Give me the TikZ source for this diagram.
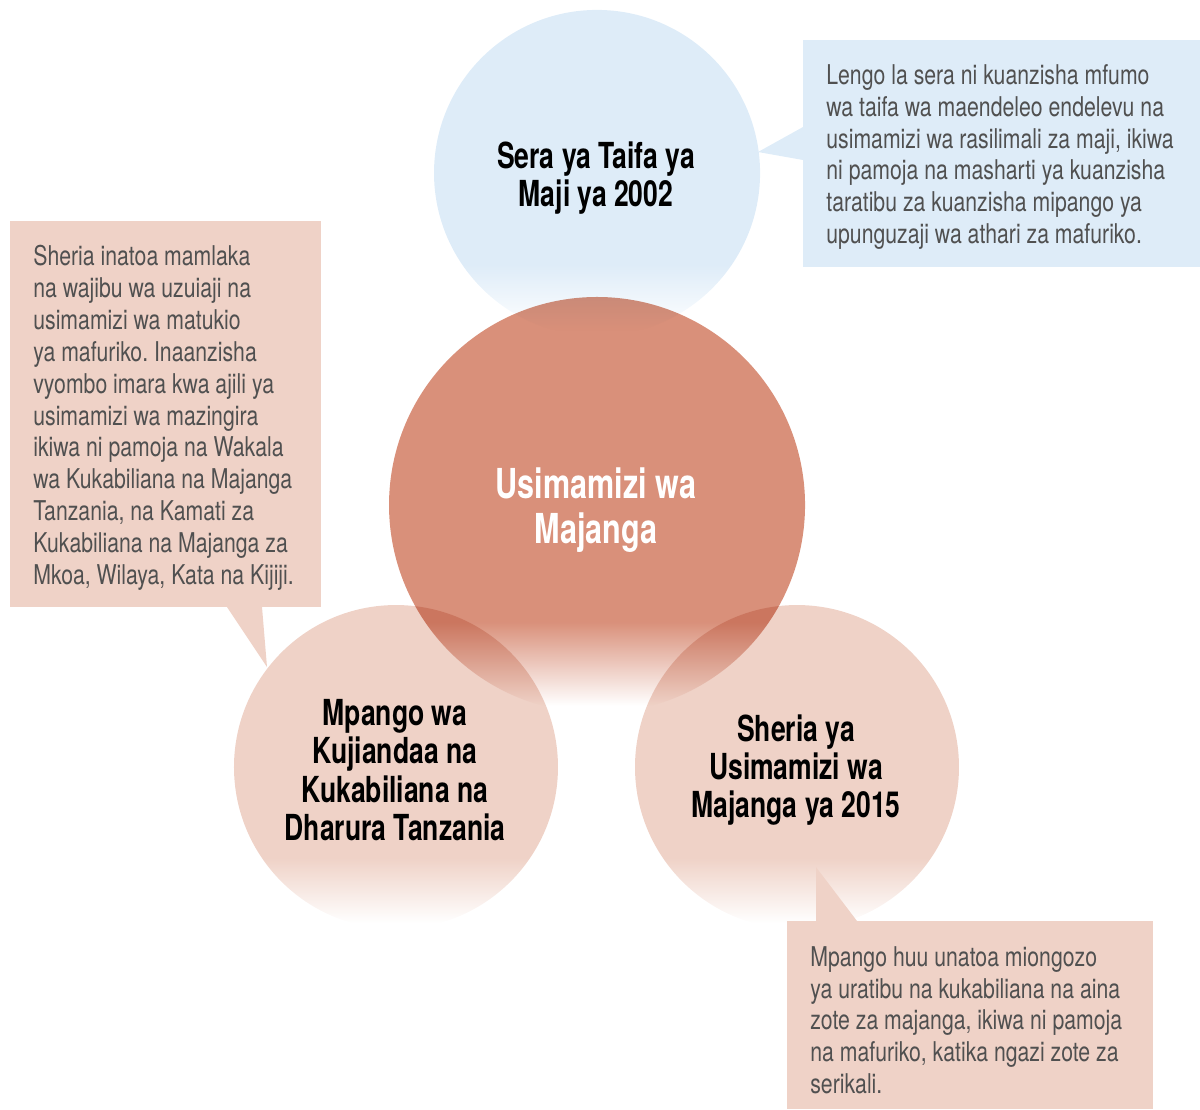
\documentclass[tikz,border=0pt]{standalone}
\usepackage{fontspec}
\setmainfont{TeX Gyre Heros}
\newfontfamily\notefont{TeX Gyre Heros}[FakeStretch=0.78]
\newfontfamily\titlefont{TeX Gyre Heros}[FakeStretch=0.74]
\frenchspacing
\usetikzlibrary{fadings}
\definecolor{skyblue}{HTML}{DEECF8}
\definecolor{rosepink}{HTML}{EFD2C7}
\definecolor{clay}{HTML}{D9907A}
\definecolor{notegray}{HTML}{505050}
% fading: solid at the top, gone at the bottom (fit fading uses the middle 50bp)
\pgfdeclareverticalshading{lowshade}{100bp}{color(0bp)=(black); color(26bp)=(black); color(36bp)=(white); color(100bp)=(white)}
\pgfdeclarefading{lowfade}{\pgfuseshading{lowshade}}
\tikzstyle{note}=[inner sep=0pt,anchor=north west,align=left,text=notegray,font=\notefont\fontsize{15.5}{18.14}\selectfont]
\tikzstyle{title}=[inner sep=0pt,align=center,font=\titlefont\bfseries\fontsize{20.4}{21.8}\selectfont]
\tikzstyle{bubble}=[path fading=lowfade]

\begin{document}
\begin{tikzpicture}[x=0.02cm,y=-0.02cm]
    \useasboundingbox (0,0) rectangle (1200,1109);
    % First the circles
    \fill[bubble,skyblue] (597,173) circle [radius=163];
    \foreach \pos in {(396,767), (797,767)}
        \fill[bubble,rosepink] \pos circle [radius=162];
    \fill[bubble,clay,blend mode=multiply] (597,505) circle [radius=208];

    % Then the note boxes with their pointers
    \fill[skyblue] (803,40) rectangle (1200,267);
    \coordinate (seratip) at (758,152);
    \fill[skyblue] (803,127) -- (seratip) -- (803,160) -- cycle;
    \fill[rosepink] (10,221) rectangle (321,607);
    \coordinate (sheriatip) at (267,667);
    \fill[rosepink] (227,607) -- (sheriatip) -- (262,607) -- cycle;
    \fill[rosepink] (787,921) rectangle (1153,1109);
    \coordinate (mpangotip) at (816,867);
    \fill[rosepink] (816,921) -- (mpangotip) -- (857,921) -- cycle;

    % Titles
    \node[title] (sera) at (596,178) {Sera ya Taifa ya\\Maji ya 2002};
    \node[title,text=white,font=\titlefont\bfseries\fontsize{23.5}{25.5}\selectfont] (usimamizi) at (596,510) {Usimamizi wa\\Majanga};
    \node[title] (mpango) at (395,770) {Mpango wa\\Kujiandaa na\\Kukabiliana na\\Dharura Tanzania};
    \node[title] (sheria) at (796,770) {Sheria ya\\Usimamizi wa\\Majanga ya 2015};

    % Notes
    \node[note] (seranote) at (826,64) {Lengo la sera ni kuanzisha mfumo\\wa taifa wa maendeleo endelevu na\\usimamizi wa rasilimali za maji, ikiwa\\ni pamoja na masharti ya kuanzisha\\taratibu za kuanzisha mipango ya\\upunguzaji wa athari za mafuriko.};
    \node[note] (sherianote) at (33,245) {Sheria inatoa mamlaka\\na wajibu wa uzuiaji na\\usimamizi wa matukio\\ya mafuriko. Inaanzisha\\vyombo imara kwa ajili ya\\usimamizi wa mazingira\\ikiwa ni pamoja na Wakala\\wa Kukabiliana na Majanga\\Tanzania, na Kamati za\\Kukabiliana na Majanga za\\Mkoa, Wilaya, Kata na Kijiji.};
    \node[note] (mpangonote) at (810,946) {Mpango huu unatoa miongozo\\ya uratibu na kukabiliana na aina\\zote za majanga, ikiwa ni pamoja\\na mafuriko, katika ngazi zote za\\serikali.};
\end{tikzpicture}
\end{document}
